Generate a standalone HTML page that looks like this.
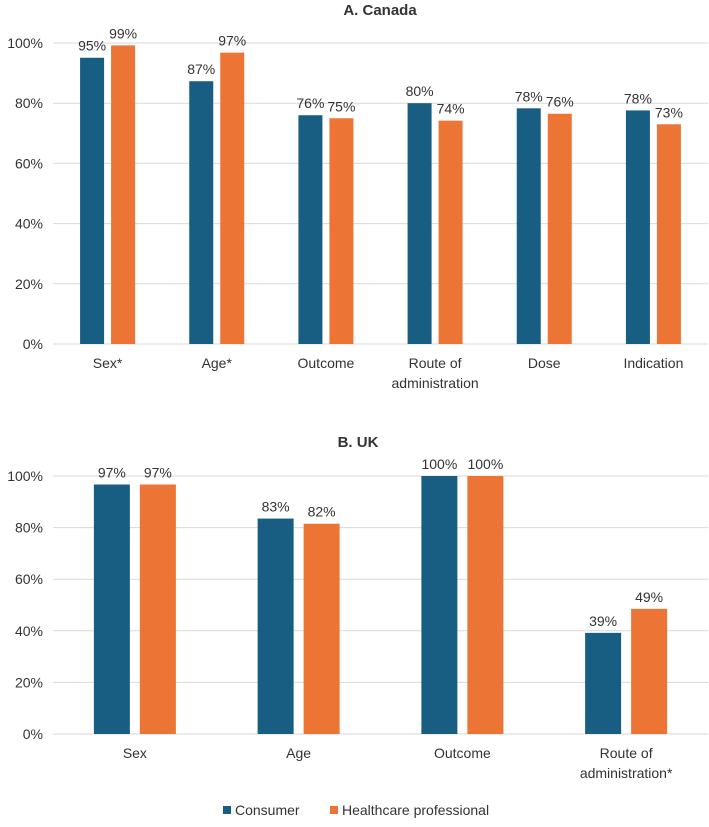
<!DOCTYPE html>
<html><head><meta charset="utf-8"><style>
body{margin:0;background:#fff;font-family:"Liberation Sans",sans-serif;}
svg text{font-family:"Liberation Sans",sans-serif;fill:#333;}
</style></head><body>
<svg width="709" height="822" id="fig"></svg>
<script>
const catsA=["Sex*","Age*","Outcome","Route of|administration","Dose","Indication"];
const consA=[95.1,87.3,76,80,78.3,77.6];
const hcpA=[99.2,96.8,75,74.2,76.5,73];
const labConsA=["95%","87%","76%","80%","78%","78%"];
const labHcpA=["99%","97%","75%","74%","76%","73%"];
const catsB=["Sex","Age","Outcome","Route of|administration*"];
const consB=[96.7,83.5,100,39.2];
const hcpB=[96.7,81.5,100,48.5];
const labConsB=["97%","83%","100%","39%"];
const labHcpB=["97%","82%","100%","49%"];
const ticks=[0,20,40,60,80,100];
const NS="http://www.w3.org/2000/svg";
const svg=document.getElementById('fig');
function el(t,a,p){const e=document.createElementNS(NS,t);for(const k in a)e.setAttribute(k,a[k]);(p||svg).appendChild(e);return e;}
function chart(o){
  const g=el('g',{});
  
  
  const x0=53,x1=708,n=o.cats.length,cw=(x1-x0)/n;
  const y=v=>o.y0-(o.y0-o.y100)*v/100;
  const t=el('text',{x:o.tx,y:o.ty,'text-anchor':'middle','font-size':15,'font-weight':'bold'},g);t.textContent=o.title;
  
  
  ticks.forEach(v=>{
    const l=el('line',{x1:x0,x2:x1,y1:y(v),y2:y(v),stroke:'#d9d9d9','stroke-width':1},g);
    
    
    const tt=el('text',{x:43,y:y(v)+5,'text-anchor':'end','font-size':14},g);tt.textContent=v+'%';
    
    
  });
  o.cats.forEach((c,i)=>{
    const cx=x0+cw*(i+0.5);
    [[o.cons[i],o.lc[i],'#175e82',-1],[o.hcp[i],o.lh[i],'#ec7434',1]].forEach(([v,lab,col,s])=>{
      const bx=s<0?cx-o.gap/2-o.bw:cx+o.gap/2;
      const r=el('rect',{x:bx,y:y(v),width:o.bw,height:o.y0-y(v),fill:col},g);
      
      
      const tl=el('text',{x:bx+o.bw/2,y:y(v)-7,'text-anchor':'middle','font-size':14},g);tl.textContent=lab;
      
      
    });
    c.split('|').forEach((ln,j)=>{
      const xl=el('text',{x:cx,y:o.y0+24+j*20,'text-anchor':'middle','font-size':14},g);xl.textContent=ln;
      
      
    });
  });
}
chart({name:'canada-chart',title:'A. Canada',tx:380,ty:15,cats:catsA,cons:consA,hcp:hcpA,lc:labConsA,lh:labHcpA,y100:43,y0:344,bw:24,gap:7});
chart({name:'uk-chart',title:'B. UK',tx:358,ty:447,cats:catsB,cons:consB,hcp:hcpB,lc:labConsB,lh:labHcpB,y100:476,y0:734,bw:36,gap:10});
const lg=el('g',{});


[[223,'#175e82','Consumer'],[330,'#ec7434','Healthcare professional']].forEach(([x,c,t])=>{
  const e=el('g',{},lg);
  
  
  el('rect',{x:x,y:806,width:8,height:8,fill:c},e);
  const tx=el('text',{x:x+12,y:815,'font-size':14},e);tx.textContent=t;
});
</script>
</body></html>
